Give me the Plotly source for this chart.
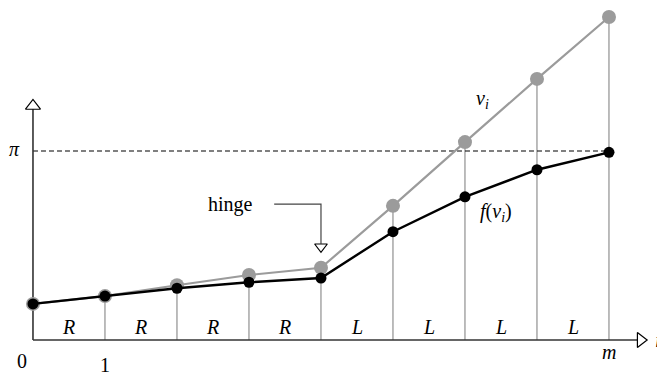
import numpy as np
import plotly.graph_objects as go

# grid index i = 0..m
idx = list(range(9))
# raw values v_i (grey) and the hinged values f(v_i) (black)
v_vals = [0.60, 0.73, 0.91, 1.08, 1.20, 2.23, 3.29, 4.34, 5.37]
f_vals = [0.60, 0.73, 0.86, 0.96, 1.03, 1.80, 2.38, 2.83, 3.12]
seg_labels = ["R", "R", "R", "R", "L", "L", "L", "L"]
tick_pos = [0, 1, 8]
tick_text = ["0", "1", "<i>m</i>"]
PI = np.pi
hinge_at = 4

serif = "Liberation Serif"
axis_col = "#333333"

fig = go.Figure()

# thin vertical guides from the axis up to v_i
vx, vy = [], []
for i, v in zip(idx[1:], v_vals[1:]):
    vx += [i, i, None]
    vy += [0, v, None]
fig.add_trace(go.Scatter(x=vx, y=vy, mode="lines",
                         line=dict(color="#7a7a7a", width=1), hoverinfo="skip"))

# dashed pi level
fig.add_trace(go.Scatter(x=[0, idx[-1]], y=[PI, PI], mode="lines",
                         line=dict(color="black", width=1.2, dash="5px,3px"), hoverinfo="skip"))

# axes
x_end = 8.44
y_end = 3.89
fig.add_trace(go.Scatter(x=[0, x_end], y=[0, 0], mode="lines",
                         line=dict(color=axis_col, width=1.6), hoverinfo="skip"))
fig.add_trace(go.Scatter(x=[0, 0], y=[0, y_end], mode="lines",
                         line=dict(color=axis_col, width=1.6), hoverinfo="skip"))
fig.add_trace(go.Scatter(x=[x_end], y=[0], mode="markers",
                         marker=dict(symbol="triangle-right", size=13, color="white",
                                     line=dict(color="black", width=1.2)), hoverinfo="skip"))
fig.add_trace(go.Scatter(x=[0], y=[y_end], mode="markers",
                         marker=dict(symbol="triangle-up", size=13, color="white",
                                     line=dict(color="black", width=1.2)), hoverinfo="skip"))

# v_i series
fig.add_trace(go.Scatter(x=idx, y=v_vals, mode="lines+markers",
                         line=dict(color="#9b9b9b", width=2.2),
                         marker=dict(color="#9b9b9b", size=14)))
# f(v_i) series
fig.add_trace(go.Scatter(x=idx, y=f_vals, mode="lines+markers",
                         line=dict(color="black", width=2.4),
                         marker=dict(color="black", size=11)))

# hinge pointer
hy = 2.26
fig.add_trace(go.Scatter(x=[3.35, hinge_at, hinge_at], y=[hy, hy, 1.60], mode="lines",
                         line=dict(color="#444444", width=1.2), hoverinfo="skip"))
fig.add_trace(go.Scatter(x=[hinge_at], y=[1.55], mode="markers",
                         marker=dict(symbol="triangle-down", size=11, color="white",
                                     line=dict(color="black", width=1.2)), hoverinfo="skip"))

# text
ann = []
for k, lab in enumerate(seg_labels):
    ann.append(dict(x=k + 0.5, y=0.22, text="<i>%s</i>" % lab))
ann.append(dict(x=-0.15, y=-0.35, text=tick_text[0]))
ann.append(dict(x=tick_pos[1], y=-0.41, text=tick_text[1]))
ann.append(dict(x=tick_pos[2], y=-0.20, text=tick_text[2]))
ann.append(dict(x=8.68, y=0.0, text="<i>i</i>"))
ann.append(dict(x=-0.25, y=PI + 0.03, text="<i>π</i>"))
ann.append(dict(x=2.75, y=hy, text="hinge"))
ann.append(dict(x=6.25, y=4.0, text="<i>v<sub>i</sub></i>"))
ann.append(dict(x=6.43, y=2.12, text="<i>f</i>(<i>v<sub>i</sub></i>)"))
for a in ann:
    a.update(showarrow=False, xref="x", yref="y",
             font=dict(family=serif, size=20, color="black"))

# page has an 8px body margin, so the figure is 8px smaller and the ranges start there
fig.update_layout(
    width=657, height=367,
    margin=dict(l=0, r=0, t=0, b=0),
    paper_bgcolor="white", plot_bgcolor="white",
    showlegend=False,
    font=dict(family=serif),
    annotations=ann,
    xaxis=dict(range=[-0.347, 8.778], visible=False),
    yaxis=dict(range=[-0.582, 5.519], visible=False),
)

fig.write_html("out.html")
